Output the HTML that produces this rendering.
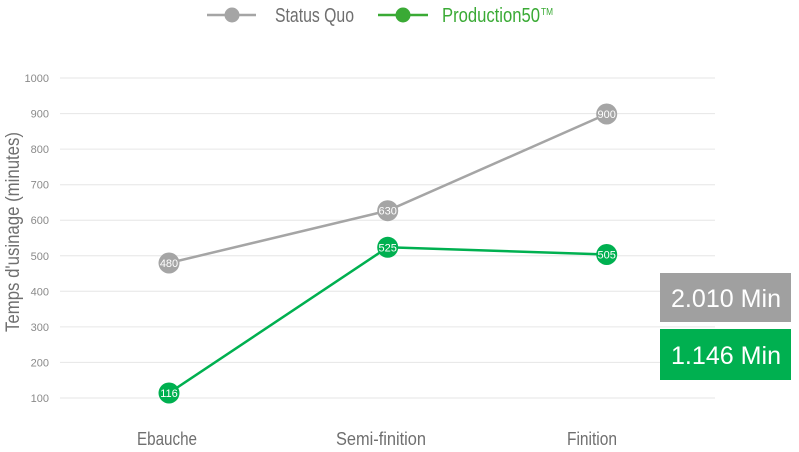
<!DOCTYPE html>
<html><head><meta charset="utf-8"><style>
html,body{margin:0;padding:0;background:#fff;}
svg{display:block;}
</style></head><body>
<svg width="799" height="452" viewBox="0 0 799 452" xmlns="http://www.w3.org/2000/svg" font-family="'Liberation Sans', sans-serif">
<!-- legend -->
<line x1="207" y1="15" x2="256" y2="15" stroke="#a5a5a5" stroke-width="2.5"/>
<circle cx="232" cy="15" r="7.5" fill="#a5a5a5"/>
<text x="275" y="22" font-size="20" fill="#6f6f6f" textLength="79" lengthAdjust="spacingAndGlyphs">Status Quo</text>
<line x1="378" y1="15" x2="428" y2="15" stroke="#3aaa35" stroke-width="2.5"/>
<circle cx="403" cy="15" r="7.5" fill="#3aaa35"/>
<text x="442" y="22" font-size="20" fill="#3aaa35" textLength="98" lengthAdjust="spacingAndGlyphs">Production50</text>
<text x="541" y="15" font-size="10" fill="#3aaa35" textLength="12" lengthAdjust="spacingAndGlyphs">TM</text>
<!-- gridlines -->
<g stroke="#e6e6e6" stroke-width="1">
<line x1="60" y1="78" x2="715" y2="78"/>
<line x1="60" y1="113.6" x2="715" y2="113.6"/>
<line x1="60" y1="149.1" x2="715" y2="149.1"/>
<line x1="60" y1="184.7" x2="715" y2="184.7"/>
<line x1="60" y1="220.2" x2="715" y2="220.2"/>
<line x1="60" y1="255.8" x2="715" y2="255.8"/>
<line x1="60" y1="291.3" x2="715" y2="291.3"/>
<line x1="60" y1="326.9" x2="715" y2="326.9"/>
<line x1="60" y1="362.4" x2="715" y2="362.4"/>
<line x1="60" y1="398" x2="715" y2="398"/>
</g>
<g font-size="11" fill="#8a8a8a" text-anchor="end">
<text x="49" y="82">1000</text>
<text x="49" y="117.6">900</text>
<text x="49" y="153.1">800</text>
<text x="49" y="188.7">700</text>
<text x="49" y="224.2">600</text>
<text x="49" y="259.8">500</text>
<text x="49" y="295.3">400</text>
<text x="49" y="330.9">300</text>
<text x="49" y="366.4">200</text>
<text x="49" y="402">100</text>
</g>
<text transform="translate(19,232) rotate(-90)" font-size="19" fill="#6f6f6f" text-anchor="middle" textLength="200" lengthAdjust="spacingAndGlyphs">Temps d'usinage (minutes)</text>
<!-- series -->
<polyline points="169,263 387.7,210.7 606.7,114" fill="none" stroke="#a5a5a5" stroke-width="2.5"/>
<polyline points="169,393 387.7,247.3 606.7,254.5" fill="none" stroke="#00b050" stroke-width="2.5"/>
<g font-size="11" fill="#fff" text-anchor="middle">
<circle cx="169" cy="263" r="10.5" fill="#a5a5a5"/><text x="169" y="267">480</text>
<circle cx="387.7" cy="210.7" r="10.5" fill="#a5a5a5"/><text x="387.7" y="214.7">630</text>
<circle cx="606.7" cy="114" r="10.5" fill="#a5a5a5"/><text x="606.7" y="118">900</text>
<circle cx="169" cy="393" r="10.5" fill="#00b050"/><text x="169" y="397">116</text>
<circle cx="387.7" cy="247.3" r="10.5" fill="#00b050"/><text x="387.7" y="251.3">525</text>
<circle cx="606.7" cy="254.5" r="10.5" fill="#00b050"/><text x="606.7" y="258.5">505</text>
</g>
<!-- categories -->
<g font-size="18" fill="#6f6f6f">
<text x="137" y="445" textLength="60" lengthAdjust="spacingAndGlyphs">Ebauche</text>
<text x="336" y="445" textLength="90" lengthAdjust="spacingAndGlyphs">Semi-finition</text>
<text x="567" y="445" textLength="50" lengthAdjust="spacingAndGlyphs">Finition</text>
</g>
<!-- boxes -->
<rect x="660" y="273" width="131" height="49" fill="#a0a0a0"/>
<text x="671" y="307" font-size="25" fill="#fff" textLength="110" lengthAdjust="spacingAndGlyphs">2.010 Min</text>
<rect x="660" y="329" width="131" height="51" fill="#00b050"/>
<text x="671" y="364" font-size="25" fill="#fff" textLength="110" lengthAdjust="spacingAndGlyphs">1.146 Min</text>
</svg>
</body></html>
